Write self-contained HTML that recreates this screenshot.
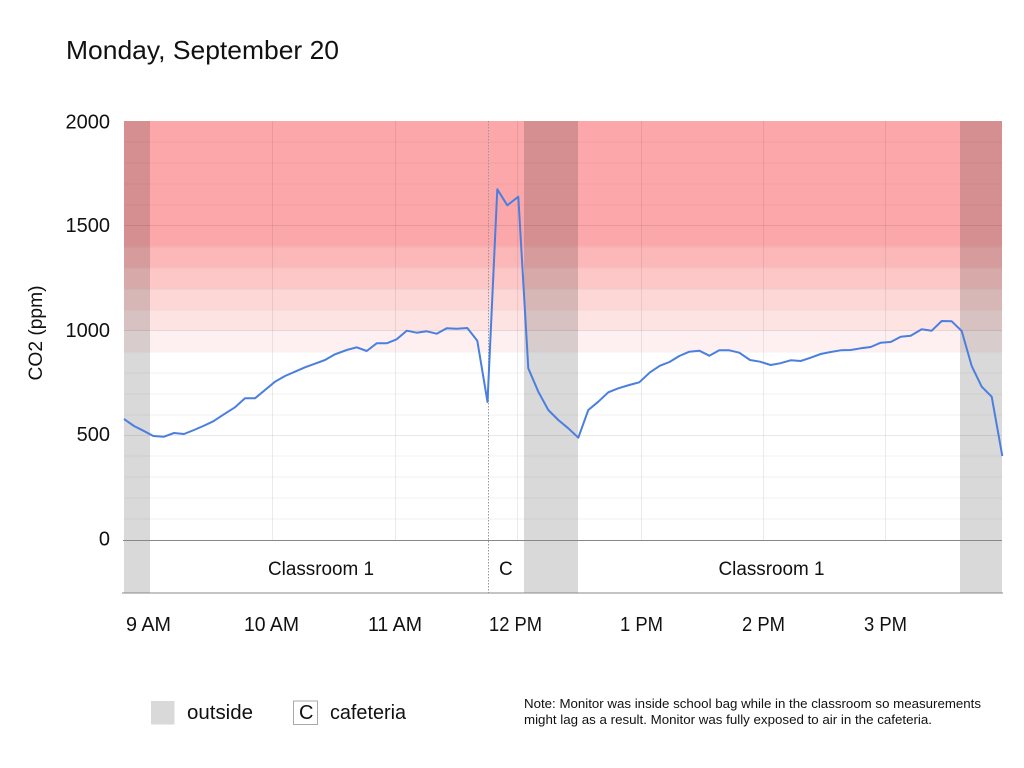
<!DOCTYPE html>
<html>
<head>
<meta charset="utf-8">
<style>
  html,body{margin:0;padding:0;background:#fff;}
  svg{display:block;}
  text{font-family:"Liberation Sans", Arial, sans-serif; fill:#111;}
</style>
</head>
<body>
<svg width="1024" height="768" viewBox="0 0 1024 768" xmlns="http://www.w3.org/2000/svg">
  <rect x="0" y="0" width="1024" height="768" fill="#fff"/>

  <!-- Title -->
  <text x="66" y="59" font-size="26" textLength="273" lengthAdjust="spacingAndGlyphs">Monday, September 20</text>

  <!-- Red threshold bands -->
  <rect x="124" y="121" width="878" height="125.7" fill="#fca8aa"/>
  <rect x="124" y="246.7" width="878" height="21" fill="#fcb8b9"/>
  <rect x="124" y="267.7" width="878" height="21" fill="#fdc7c7"/>
  <rect x="124" y="288.6" width="878" height="21" fill="#fdd6d6"/>
  <rect x="124" y="309.6" width="878" height="21" fill="#fee3e3"/>
  <rect x="124" y="330.5" width="878" height="21" fill="#fef0f0"/>

  <!-- Horizontal gridlines every 100 ppm -->
  <g stroke="rgba(0,0,0,0.05)" stroke-width="1">
    <line x1="124" x2="1002" y1="142" y2="142"/>
    <line x1="124" x2="1002" y1="163" y2="163"/>
    <line x1="124" x2="1002" y1="184" y2="184"/>
    <line x1="124" x2="1002" y1="205" y2="205"/>
    <line x1="124" x2="1002" y1="247" y2="247"/>
    <line x1="124" x2="1002" y1="268" y2="268"/>
    <line x1="124" x2="1002" y1="289" y2="289"/>
    <line x1="124" x2="1002" y1="310" y2="310"/>
    <line x1="124" x2="1002" y1="352" y2="352"/>
    <line x1="124" x2="1002" y1="373" y2="373"/>
    <line x1="124" x2="1002" y1="394" y2="394"/>
    <line x1="124" x2="1002" y1="415" y2="415"/>
    <line x1="124" x2="1002" y1="456" y2="456"/>
    <line x1="124" x2="1002" y1="477" y2="477"/>
    <line x1="124" x2="1002" y1="498" y2="498"/>
    <line x1="124" x2="1002" y1="519" y2="519"/>
  </g>
  <g stroke="rgba(0,0,0,0.09)" stroke-width="1">
    <line x1="124" x2="1002" y1="225.5" y2="225.5"/>
    <line x1="124" x2="1002" y1="330.5" y2="330.5"/>
    <line x1="124" x2="1002" y1="435.5" y2="435.5"/>
  </g>

  <!-- Vertical hour gridlines -->
  <g stroke="rgba(0,0,0,0.08)" stroke-width="1">
    <line x1="272.5" x2="272.5" y1="121" y2="540"/>
    <line x1="395.5" x2="395.5" y1="121" y2="540"/>
    <line x1="517.5" x2="517.5" y1="121" y2="540"/>
    <line x1="641.5" x2="641.5" y1="121" y2="540"/>
    <line x1="763.5" x2="763.5" y1="121" y2="540"/>
    <line x1="885.5" x2="885.5" y1="121" y2="540"/>
  </g>

  <!-- Outside (gray) bands -->
  <g fill="rgba(0,0,0,0.15)">
    <rect x="124" y="121" width="26" height="472"/>
    <rect x="524" y="121" width="54" height="472"/>
    <rect x="960" y="121" width="42" height="472"/>
  </g>

  <!-- Cafeteria dotted divider -->
  <line x1="488.5" x2="488.5" y1="121" y2="593" stroke="#999" stroke-width="1" stroke-dasharray="1.5,1.5"/>

  <!-- Zero line and bottom line -->
  <line x1="123" x2="1002" y1="540.5" y2="540.5" stroke="#888" stroke-width="1"/>
  <line x1="122" x2="1003" y1="593" y2="593" stroke="#888" stroke-width="1"/>

  <!-- Data line -->
  <polyline fill="none" stroke="#4a7fe0" stroke-width="2" stroke-linejoin="round" points="
    124,419 134,426 143.3,430.7 153.3,436 164,436.7 174,433 184,434 194,430 203.3,426 213.3,421.3
    223.3,414.7 235,407.3 245,398.3 255,398.3 265,390 275,381.7 285,376 295,371.7 305,367.3 315,363.7
    325,360 335,354.3 346.7,350 356.7,347.3 366.7,351 376.7,343.3 386.7,343.3 396.7,339.3 406.7,330.7
    416.7,332.7 426.7,331.3 436.7,333.7 446.7,328.3 456.7,328.7 467.3,328 477.3,340.7 487.5,402
    497.3,189.3 507.3,205.3 518.3,196.7 528.3,368.3 538.3,391.7 548.3,410 558.3,420 568.3,428.3 578.3,437.7
    588.3,410 598.3,401.7 608.3,392.3 618.3,388.3 629.3,385 639.3,382.3 650,372.3 660,365.7 669.5,362
    679.3,356 689.3,351.7 699.3,350.7 709.3,355.7 719.3,350.3 729.3,350.3 739.3,352.7 750,360 760,361.7
    770.7,365 780,363.3 790.7,360.3 800.7,361 810.7,357.7 820.7,354 830.7,352 840.7,350.3 850.7,350
    860.7,348.3 870.7,347 880.7,342.7 890.7,342 900.7,336.7 910.7,335.7 921.7,329.3 931.7,330.7
    941.7,321 951.7,321.3 961.7,331 971.7,366 981.7,386.7 991.7,396.7 1002.3,456"/>

  <!-- Y axis labels -->
  <g font-size="20" text-anchor="end">
    <text x="110" y="128.5">2000</text>
    <text x="110" y="232">1500</text>
    <text x="110" y="337">1000</text>
    <text x="110" y="441">500</text>
    <text x="110" y="545.5">0</text>
  </g>
  <text transform="translate(42,333) rotate(-90)" font-size="19" text-anchor="middle" textLength="95" lengthAdjust="spacingAndGlyphs">CO2 (ppm)</text>

  <!-- Location labels -->
  <text x="268" y="575" font-size="19" textLength="106" lengthAdjust="spacingAndGlyphs">Classroom 1</text>
  <text x="499" y="575" font-size="19">C</text>
  <text x="718.5" y="575" font-size="19" textLength="106" lengthAdjust="spacingAndGlyphs">Classroom 1</text>

  <!-- X axis labels -->
  <g font-size="20">
    <text x="126" y="631" textLength="45" lengthAdjust="spacingAndGlyphs">9 AM</text>
    <text x="244" y="631" textLength="55" lengthAdjust="spacingAndGlyphs">10 AM</text>
    <text x="368" y="631" textLength="54" lengthAdjust="spacingAndGlyphs">11 AM</text>
    <text x="489" y="631" textLength="53" lengthAdjust="spacingAndGlyphs">12 PM</text>
    <text x="620" y="631" textLength="43" lengthAdjust="spacingAndGlyphs">1 PM</text>
    <text x="742" y="631" textLength="43" lengthAdjust="spacingAndGlyphs">2 PM</text>
    <text x="864" y="631" textLength="43" lengthAdjust="spacingAndGlyphs">3 PM</text>
  </g>

  <!-- Legend -->
  <rect x="151" y="701" width="23.5" height="23.5" fill="#d9d9d9"/>
  <text x="187" y="719" font-size="20" textLength="66" lengthAdjust="spacingAndGlyphs">outside</text>
  <rect x="293.5" y="701" width="24" height="23.5" fill="#fff" stroke="#aaa" stroke-width="1"/>
  <text x="299" y="719" font-size="20">C</text>
  <text x="330" y="719" font-size="20" textLength="76" lengthAdjust="spacingAndGlyphs">cafeteria</text>

  <!-- Note -->
  <text x="524" y="708" font-size="12.5" textLength="457" lengthAdjust="spacingAndGlyphs">Note: Monitor was inside school bag while in the classroom so measurements</text>
  <text x="524" y="724" font-size="12.5" textLength="408" lengthAdjust="spacingAndGlyphs">might lag as a result. Monitor was fully exposed to air in the cafeteria.</text>
</svg>
</body>
</html>
